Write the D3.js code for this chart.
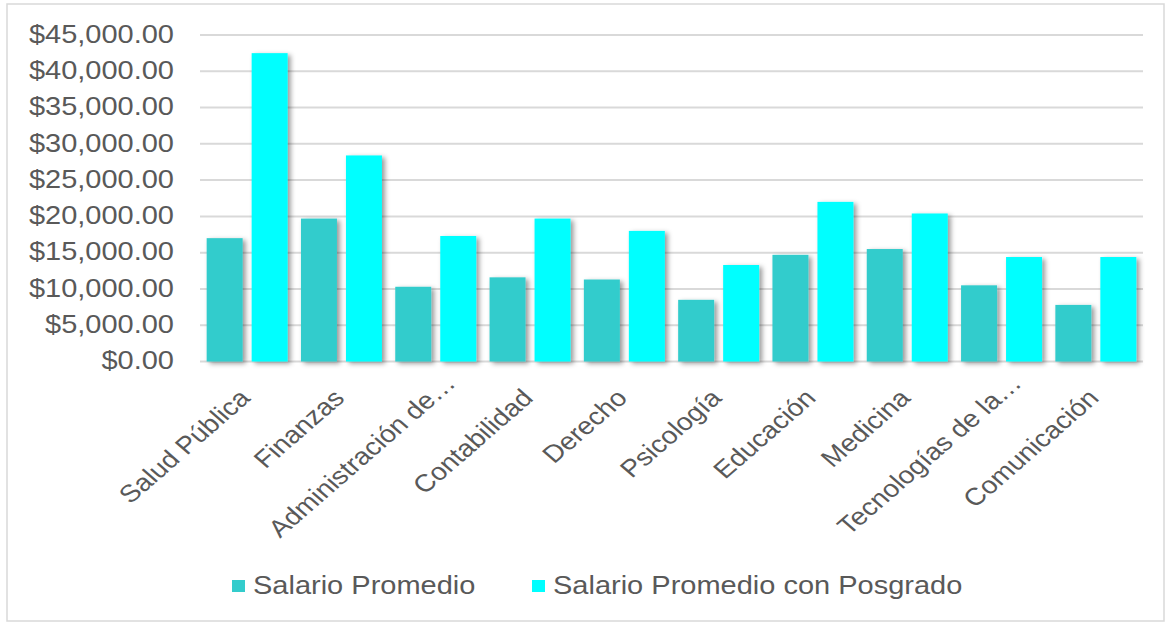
<!DOCTYPE html>
<html>
<head>
<meta charset="utf-8">
<script src="https://cdn.jsdelivr.net/npm/d3@7/dist/d3.min.js"></script>
<style>
  html, body { margin: 0; padding: 0; background: #fff; }
  svg { display: block; font-family: "Liberation Sans", Arial, sans-serif; }
</style>
</head>
<body>
<svg id="chart" width="1170" height="625"></svg>
<script>
const categories = ["Salud Pública", "Finanzas", "Administración de…", "Contabilidad", "Derecho",
  "Psicología", "Educación", "Medicina", "Tecnologías de la…", "Comunicación"];
const seriesNames = ["Salario Promedio", "Salario Promedio con Posgrado"];
const salarioPromedio = [17000, 19700, 10300, 11600, 11300, 8500, 14700, 15500, 10500, 7800];
const salarioPosgrado = [42500, 28400, 17300, 19700, 18000, 13300, 22000, 20400, 14400, 14400];
const yTicks = [0, 5000, 10000, 15000, 20000, 25000, 30000, 35000, 40000, 45000];
const colors = ["#33CCCC", "#00FFFF"];

const svg = d3.select("#chart");
const textColor = "#595959";
const squash = 0.87;

// outer frame
svg.append("rect").attr("x", 7).attr("y", 4).attr("width", 1157).attr("height", 617)
  .attr("fill", "#fff").attr("stroke", "#d9d9d9").attr("stroke-width", 1.5);

const defs = svg.append("defs");
const f = defs.append("filter").attr("id", "shadow")
  .attr("x", "-20%").attr("y", "-10%").attr("width", "160%").attr("height", "130%");
f.append("feDropShadow").attr("dx", 3).attr("dy", 2).attr("stdDeviation", 2.5)
  .attr("flood-color", "#000").attr("flood-opacity", 0.4);

const plotLeft = 200, plotRight = 1143;
const y = d3.scaleLinear().domain([0, 45000]).range([361.5, 35]);
const x0 = d3.scaleBand().domain(categories).range([plotLeft, plotRight]).padding(0);
const x1 = d3.scaleBand().domain(seriesNames).range([0, x0.bandwidth()])
  .paddingInner(0.2).paddingOuter(0.148);

// gridlines
svg.append("g").selectAll("line").data(yTicks).join("line")
  .attr("x1", plotLeft).attr("x2", plotRight)
  .attr("y1", d => y(d)).attr("y2", d => y(d))
  .attr("stroke", "#d9d9d9").attr("stroke-width", 2);

// y labels
const fmt = d3.format("$,.2f");
svg.append("g").selectAll("text").data(yTicks).join("text")
  .attr("transform", d => `translate(174,${y(d) + 7.8}) scale(1,${squash})`)
  .attr("text-anchor", "end")
  .attr("font-size", 29)
  .attr("fill", textColor)
  .text(d => fmt(d));

// bars
const rows = categories.map((c, i) => ({ c, vals: [salarioPromedio[i], salarioPosgrado[i]] }));
const groups = svg.append("g").selectAll("g").data(rows).join("g")
  .attr("transform", d => `translate(${x0(d.c)},0)`);
groups.selectAll("rect").data(d => d.vals.map((v, k) => ({ v, k }))).join("rect")
  .attr("x", d => x1(seriesNames[d.k]))
  .attr("width", x1.bandwidth())
  .attr("y", d => y(d.v))
  .attr("height", d => y(0) - y(d.v))
  .attr("fill", d => colors[d.k])
  .attr("filter", "url(#shadow)");

// x labels (truncated labels sit further along their baseline, as in the original)
svg.append("g").selectAll("text").data(categories).join("text")
  .attr("transform", d => `translate(${x0(d) + x0.bandwidth() / 2 - 2.5},${y(0) + 32}) scale(1,${squash}) rotate(-45)`)
  .attr("text-anchor", "end")
  .attr("dx", d => d.endsWith("…") ? 24 : 0)
  .attr("dy", "0.35em")
  .attr("font-size", 28)
  .attr("fill", textColor)
  .text(d => d);

// legend
const legendItems = [{ name: seriesNames[0], mx: 232, tx: 253 }, { name: seriesNames[1], mx: 532, tx: 553 }];
const lg = svg.append("g");
legendItems.forEach((it, i) => {
  lg.append("rect").attr("x", it.mx).attr("y", 580).attr("width", 13).attr("height", 12)
    .attr("fill", colors[i]);
  lg.append("text")
    .attr("transform", `translate(${it.tx},594) scale(1,0.9)`)
    .attr("font-size", 29)
    .attr("fill", textColor)
    .text(it.name);
});
</script>
</body>
</html>
